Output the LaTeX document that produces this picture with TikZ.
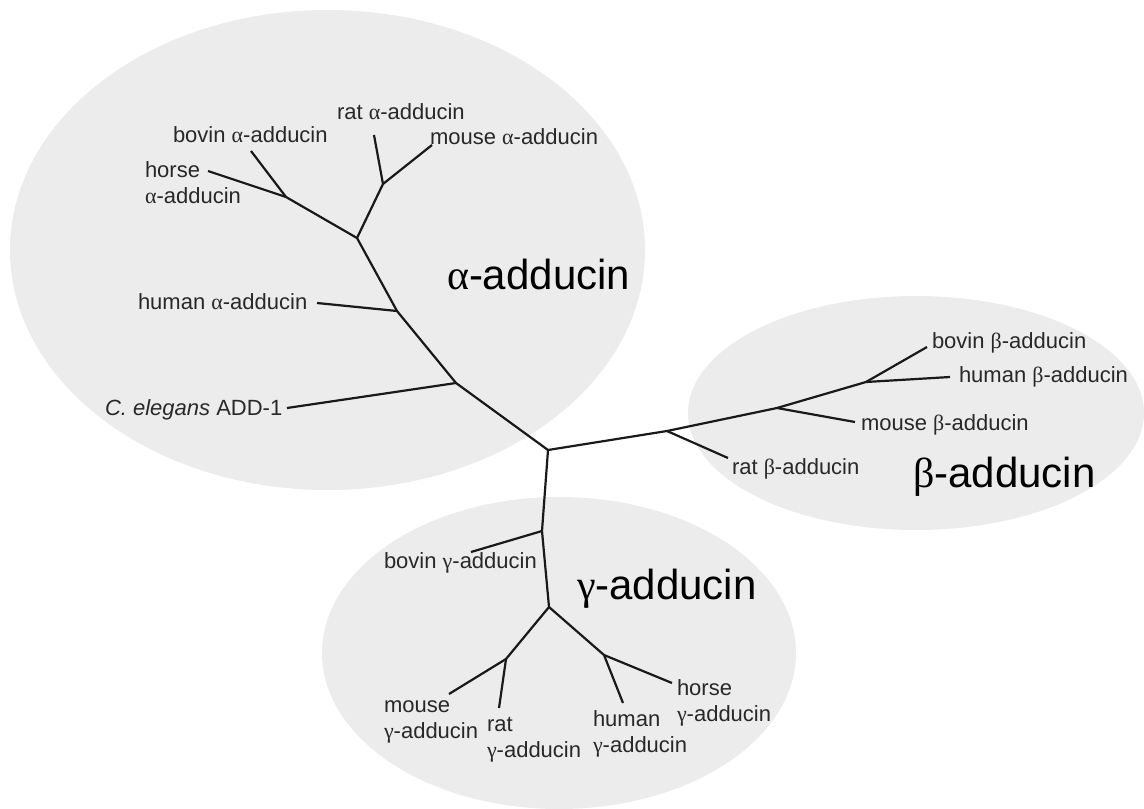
\documentclass[tikz,border=0pt]{standalone}
\usepackage{fontspec}
\setmainfont{Liberation Sans}
\newfontfamily\grfont{Liberation Serif}
\newcommand{\galpha}{{\grfont α}}
\newcommand{\gbeta}{{\grfont β}}
\newcommand{\ggamma}{{\grfont γ}}
\definecolor{cladegray}{RGB}{236,236,236}
\definecolor{linegray}{RGB}{25,25,25}
\definecolor{labelgray}{RGB}{40,40,40}
\tikzset{
  branch/.style={line width=2.2pt, draw=linegray, line join=round},
  leaflabel/.style={anchor=base west, inner sep=0pt, outer sep=0pt,
    font=\fontsize{22}{26}\selectfont, text=labelgray, align=left},
  cladelabel/.style={anchor=base west, inner sep=0pt, outer sep=0pt,
    font=\fontsize{42}{48}\selectfont, text=black},
  clade/.style={fill=cladegray, draw=none}
}
\begin{document}
\begin{tikzpicture}[x=1pt,y=-1pt]
\useasboundingbox (0,0) rectangle (1144,809);
% clade backgrounds
\fill[clade] (327.5,250) ellipse [x radius=317.5pt, y radius=240pt];
\fill[clade] (916,413) ellipse [x radius=228pt, y radius=117pt];
\fill[clade] (559,653) ellipse [x radius=237pt, y radius=156pt];

% internal nodes
\coordinate (C) at (548,450);
\coordinate (A1) at (456,383);
\coordinate (A2) at (397,311);
\coordinate (A3) at (357,238);
\coordinate (Ahb) at (286,197);
\coordinate (Arm) at (383,184);
\coordinate (B1) at (667,431);
\coordinate (B2) at (777,408);
\coordinate (B3) at (866,382);
\coordinate (G1) at (542,531);
\coordinate (G2) at (549,607);
\coordinate (G3) at (506,659);
\coordinate (G4) at (604,655);
% leaf ends
\coordinate (aCe) at (287,408);
\coordinate (aHu) at (317,303);
\coordinate (aHo) at (208,171);
\coordinate (aBo) at (251,151);
\coordinate (aRa) at (374,135);
\coordinate (aMo) at (432,145);
\coordinate (bRa) at (728,458);
\coordinate (bMo) at (855,422);
\coordinate (bBo) at (927,347);
\coordinate (bHu) at (950,377);
\coordinate (gBo) at (471,552);
\coordinate (gMo) at (449,694);
\coordinate (gRa) at (499,708);
\coordinate (gHu) at (623,703);
\coordinate (gHo) at (672,683);

% branches
\draw[branch] (C) -- (A1) -- (A2) -- (A3) -- (Ahb) -- (aHo);
\draw[branch] (Ahb) -- (aBo);
\draw[branch] (A3) -- (Arm) -- (aRa);
\draw[branch] (Arm) -- (aMo);
\draw[branch] (A2) -- (aHu);
\draw[branch] (A1) -- (aCe);
\draw[branch] (C) -- (B1) -- (B2) -- (B3) -- (bBo);
\draw[branch] (B3) -- (bHu);
\draw[branch] (B2) -- (bMo);
\draw[branch] (B1) -- (bRa);
\draw[branch] (C) -- (G1) -- (G2) -- (G3) -- (gMo);
\draw[branch] (G3) -- (gRa);
\draw[branch] (G2) -- (G4) -- (gHu);
\draw[branch] (G4) -- (gHo);
\draw[branch] (G1) -- (gBo);

% alpha labels (multi-line labels are anchored on their last baseline)
\node[leaflabel] (lHoA) at (145,203) {horse\\\galpha-adducin};
\node[leaflabel] (lBoA) at (173,142) {bovin \galpha-adducin};
\node[leaflabel] (lRaA) at (337,119) {rat \galpha-adducin};
\node[leaflabel] (lMoA) at (430,144) {mouse \galpha-adducin};
\node[leaflabel] (lHuA) at (138,309) {human \galpha-adducin};
\node[leaflabel] (lCe) at (105,415) {\textit{C. elegans} ADD-1};
\node[cladelabel] (kA) at (447,289) {\galpha-adducin};
% beta labels
\node[leaflabel] (lBoB) at (932,348) {bovin \gbeta-adducin};
\node[leaflabel] (lHuB) at (959,382) {human \gbeta-adducin};
\node[leaflabel] (lMoB) at (861,430) {mouse \gbeta-adducin};
\node[leaflabel] (lRaB) at (732,474) {rat \gbeta-adducin};
\node[cladelabel] (kB) at (913,487) {\gbeta-adducin};
% gamma labels
\node[leaflabel] (lBoG) at (384,568) {bovin \ggamma-adducin};
\node[leaflabel] (lMoG) at (384,738) {mouse\\\ggamma-adducin};
\node[leaflabel] (lRaG) at (487,757) {rat\\\ggamma-adducin};
\node[leaflabel] (lHuG) at (593,752) {human\\\ggamma-adducin};
\node[leaflabel] (lHoG) at (677,721) {horse\\\ggamma-adducin};
\node[cladelabel] (kG) at (577,599) {\ggamma-adducin};
\end{tikzpicture}
\end{document}
